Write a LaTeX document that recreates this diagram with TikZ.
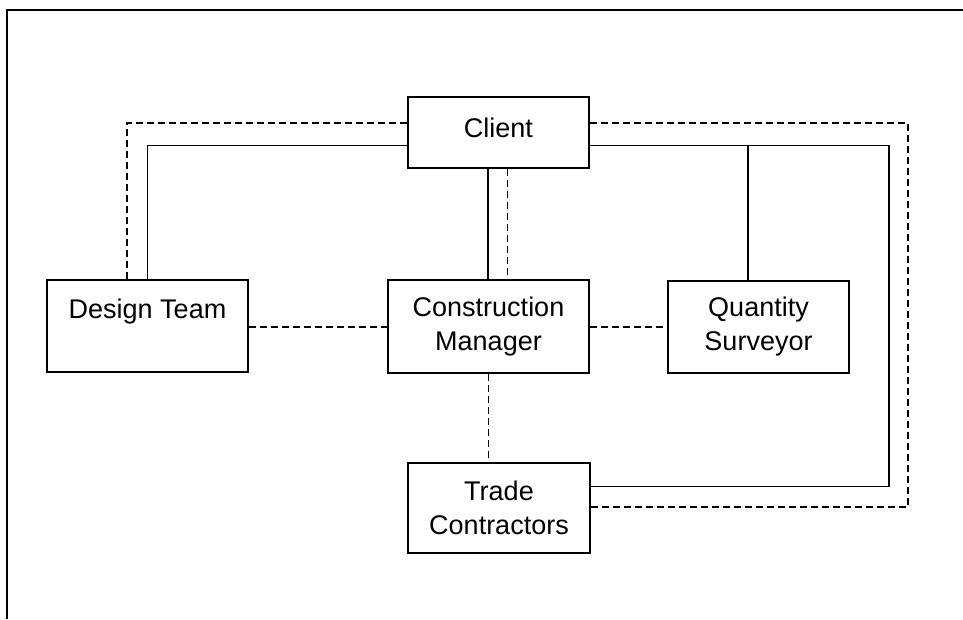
\documentclass[tikz,border=0pt]{standalone}
\usepackage{fontspec}
\setmainfont{Liberation Sans}
\begin{document}
\begin{tikzpicture}[x=1pt,y=-1pt,
  box/.style={draw,line width=1.7pt,inner sep=0pt,align=center,
    font=\fontsize{27}{34}\selectfont},
  solidline/.style={line width=1.8pt},
  dashline/.style={line width=1.8pt,dash pattern=on 7pt off 4pt},
  frame/.style={line width=2pt}]
\useasboundingbox (0,0) rectangle (963,619);

% outer frame
\draw[frame] (7,619) -- (7,10) -- (963,10);

% organisation boxes
\node[box,minimum width=181pt,minimum height=71pt] (client) at (498.5,132.5)
  {\raisebox{10pt}{Client}};
\node[box,minimum width=201pt,minimum height=92pt] (dt) at (147.5,326)
  {Design Team\\\mbox{}};
\node[box,minimum width=201pt,minimum height=93pt] (cm) at (488.5,326.5)
  {Construction\\Manager};
\node[box,minimum width=181pt,minimum height=92pt] (qs) at (758.5,327)
  {Quantity\\Surveyor};
\node[box,minimum width=182pt,minimum height=90pt] (tc) at (499,508)
  {Trade\\Contractors};

% connection points (shifts are in page directions: positive yshift is up)
\coordinate (cwd) at ([yshift=9.5pt]client.west);
\coordinate (cws) at ([yshift=-13pt]client.west);
\coordinate (ced) at ([yshift=9.5pt]client.east);
\coordinate (ces) at ([yshift=-13pt]client.east);
\coordinate (csd) at ([xshift=9pt]client.south);
\coordinate (css) at ([xshift=-10.5pt]client.south);
\coordinate (dtd) at ([xshift=-20.5pt]dt.north);
\coordinate (dts) at (dt.north);
\coordinate (qsn) at ([xshift=-10.5pt]qs.north);
\coordinate (ted) at ([yshift=1pt]tc.east);
\coordinate (tes) at ([yshift=21.5pt]tc.east);
\coordinate (rd) at (908,0);
\coordinate (rs) at (889,0);

% contractual links (solid)
\draw[solidline] (cws) -| (dts);
\draw[solidline] (css) -- (css |- cm.north);
\draw[solidline] (ces) -| (rs |- tes) -- (tes);
\draw[solidline] (ces -| qsn) -- (qsn);

% communication links (dashed)
\draw[dashline] (cwd) -| (dtd);
\draw[dashline] (csd) -- (csd |- cm.north);
\draw[dashline] (ced) -| (rd |- ted) -- (ted);
\draw[dashline] ([yshift=-1pt]dt.east) -- ([yshift=-1pt]dt.east -| cm.west);
\draw[dashline] ([yshift=-0.5pt]cm.east) -- ([yshift=-0.5pt]cm.east -| qs.west);
\draw[dashline] (cm.south) -- (cm.south |- tc.north);
\end{tikzpicture}
\end{document}
